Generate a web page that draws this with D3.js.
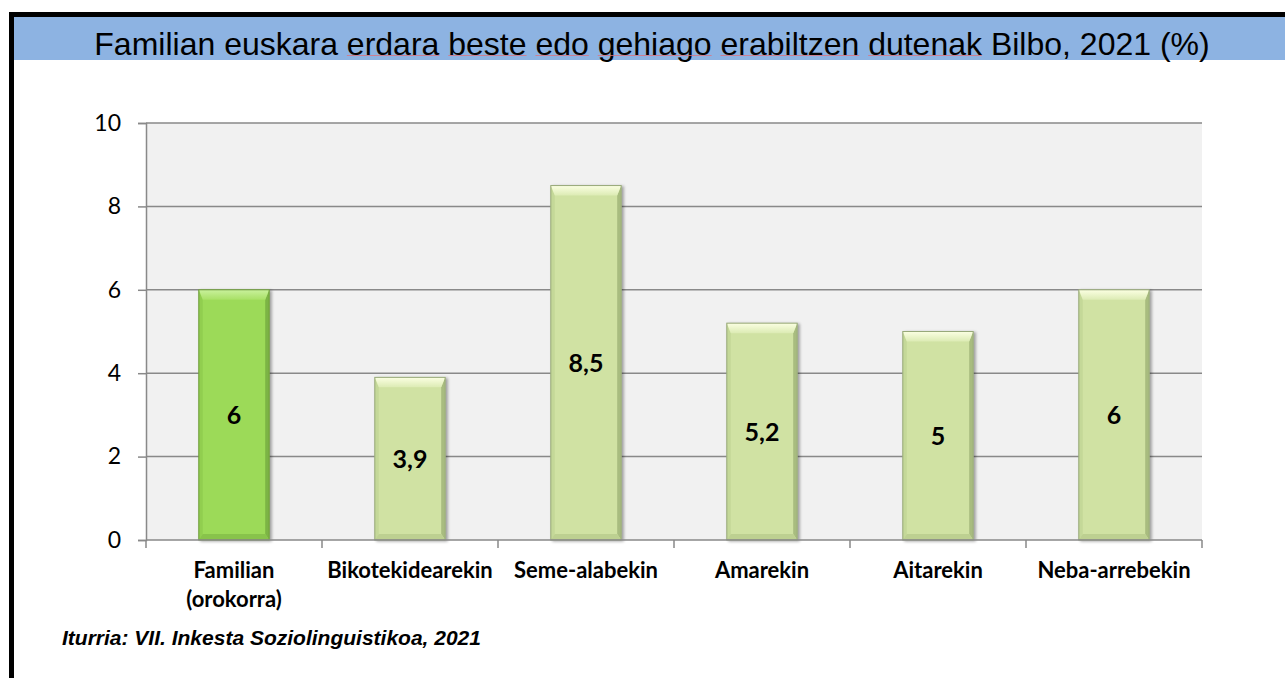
<!DOCTYPE html>
<html>
<head>
<meta charset="utf-8">
<script src="https://cdn.jsdelivr.net/npm/d3@7"></script>
<style>
  html, body { margin: 0; padding: 0; background: #ffffff; }
  svg { display: block; }
</style>
</head>
<body>
<svg id="chart" width="1285" height="678"></svg>
<script>
// Chart data
const titleText = "Familian euskara erdara beste edo gehiago erabiltzen dutenak Bilbo, 2021 (%)";
const sourceText = "Iturria: VII. Inkesta Soziolinguistikoa, 2021";
const categories = ["Familian\n(orokorra)", "Bikotekidearekin", "Seme-alabekin", "Amarekin", "Aitarekin", "Neba-arrebekin"];
const values = [6, 3.9, 8.5, 5.2, 5, 6];
const valueLabels = ["6", "3,9", "8,5", "5,2", "5", "6"];
const yTicks = [0, 2, 4, 6, 8, 10];

const svg = d3.select("#chart");
const W = 1285, H = 678;

// Frame (top and left black edges)
svg.append("rect").attr("x", 9).attr("y", 12).attr("width", W - 9).attr("height", 5).attr("fill", "#000");
svg.append("rect").attr("x", 9).attr("y", 12).attr("width", 5).attr("height", H - 12).attr("fill", "#000");

// Title band
svg.append("rect").attr("x", 14).attr("y", 17).attr("width", W - 14).attr("height", 43).attr("fill", "#8DB3E2");
const title = svg.append("text")
  .attr("x", 652).attr("y", 55)
  .attr("text-anchor", "middle")
  .attr("font-family", "Liberation Sans, Arial, sans-serif")
  .attr("font-size", 32)
  .attr("fill", "#000")
  .text(titleText);

// Spell-check style underlines beneath some title words
(function () {
  const node = title.node();
  const words = titleText.split(" ");
  const marked = new Set(["erdara", "beste", "edo", "gehiago", "erabiltzen", "dutenak"]);
  let idx = 0;
  words.forEach(w => {
    if (marked.has(w)) {
      const s = node.getStartPositionOfChar(idx).x;
      const e = node.getEndPositionOfChar(idx + w.length - 1).x;
      svg.append("line").attr("x1", s).attr("x2", e).attr("y1", 55.5).attr("y2", 55.5)
        .attr("stroke", "#E0707A").attr("stroke-width", 1).attr("opacity", 0.75);
    }
    idx += w.length + 1;
  });
})();

// Plot area
const plot = { left: 146, right: 1202, top: 123, bottom: 540 };

const x = d3.scaleBand().domain(categories).range([plot.left, plot.right]).paddingInner(0.6).paddingOuter(0.3);
const xBound = d3.scaleBand().domain(categories).range([plot.left, plot.right]).padding(0);
const y = d3.scaleLinear().domain([0, 10]).range([plot.bottom, plot.top]);

svg.append("rect")
  .attr("x", plot.left).attr("y", plot.top)
  .attr("width", plot.right - plot.left).attr("height", plot.bottom - plot.top)
  .attr("fill", "#F1F1F1");

// Gridlines
svg.append("g").selectAll("line").data(yTicks.filter(d => d > 0)).join("line")
  .attr("x1", plot.left).attr("x2", plot.right)
  .attr("y1", d => y(d)).attr("y2", d => y(d))
  .attr("stroke", "#898989").attr("stroke-width", 1.5);

// Y axis
const yAxis = svg.append("g")
  .attr("transform", `translate(${plot.left},0)`)
  .call(d3.axisLeft(y).tickValues(yTicks).tickSize(8).tickPadding(17).tickFormat(d3.format("d")));
yAxis.select(".domain").attr("stroke", "#898989").attr("stroke-width", 1.5);
yAxis.selectAll(".tick line").attr("stroke", "#898989").attr("stroke-width", 1.5);
yAxis.selectAll("text")
  .attr("font-family", "Lato, Carlito, sans-serif")
  .attr("font-size", 23).attr("fill", "#000");

// Gradients and filters for the bevelled bars
const defs = svg.append("defs");
const shadow = defs.append("filter").attr("id", "barShadow").attr("x", "-20%").attr("y", "-10%").attr("width", "140%").attr("height", "120%");
shadow.append("feGaussianBlur").attr("in", "SourceAlpha").attr("stdDeviation", 1.5).attr("result", "blur");
shadow.append("feOffset").attr("in", "blur").attr("dx", 2).attr("dy", 1).attr("result", "off");
shadow.append("feComponentTransfer").attr("in", "off").attr("result", "soft")
  .append("feFuncA").attr("type", "linear").attr("slope", 0.35);
const merge = shadow.append("feMerge");
merge.append("feMergeNode").attr("in", "soft");
merge.append("feMergeNode").attr("in", "SourceGraphic");

const palettes = {
  main:  { face: "#9CDA58", top0: "#C9F19C", top1: "#A8E066", right: "#7CB444", left: "#91CE50", bottom: "#88C34B", stroke: "#6F9C3C" },
  light: { face: "#D0E2A3", top0: "#FBFFE2", top1: "#DCEBB4", right: "#A8BC7F", left: "#C4D898", bottom: "#BDD091", stroke: "#98A97A" }
};
Object.entries(palettes).forEach(([k, p]) => {
  const g = defs.append("linearGradient").attr("id", "top-" + k).attr("x1", 0).attr("y1", 0).attr("x2", 0).attr("y2", 1);
  g.append("stop").attr("offset", "0%").attr("stop-color", p.top0);
  g.append("stop").attr("offset", "100%").attr("stop-color", p.top1);
});

const bars = svg.append("g").selectAll("g").data(categories).join("g")
  .attr("filter", "url(#barShadow)");

bars.each(function (c, i) {
  const g = d3.select(this);
  const p = i === 0 ? palettes.main : palettes.light;
  const key = i === 0 ? "main" : "light";
  const x0 = x(c), w = x.bandwidth();
  const y0 = y(values[i]), y1 = y(0);
  const bt = 10, bs = 4, bb = 6;
  g.append("rect").attr("x", x0).attr("y", y0).attr("width", w).attr("height", y1 - y0).attr("fill", p.face);
  // left edge
  g.append("path").attr("d", `M${x0},${y0}L${x0 + bs},${y0 + bt}L${x0 + bs},${y1 - bb}L${x0},${y1}Z`).attr("fill", p.left);
  // right edge
  g.append("path").attr("d", `M${x0 + w},${y0}L${x0 + w - bs},${y0 + bt}L${x0 + w - bs},${y1 - bb}L${x0 + w},${y1}Z`).attr("fill", p.right);
  // bottom edge
  g.append("path").attr("d", `M${x0},${y1}L${x0 + bs},${y1 - bb}L${x0 + w - bs},${y1 - bb}L${x0 + w},${y1}Z`).attr("fill", p.bottom);
  // top highlight
  g.append("path").attr("d", `M${x0},${y0}L${x0 + w},${y0}L${x0 + w - bs},${y0 + bt}L${x0 + bs},${y0 + bt}Z`).attr("fill", `url(#top-${key})`);
  g.append("rect").attr("x", x0).attr("y", y0).attr("width", w).attr("height", y1 - y0)
    .attr("fill", "none").attr("stroke", p.stroke).attr("stroke-width", 1);
});

// Value labels centred in each bar
svg.append("g").selectAll("text").data(categories).join("text")
  .attr("x", c => x(c) + x.bandwidth() / 2)
  .attr("y", (c, i) => (y(values[i]) + y(0)) / 2 + 9)
  .attr("text-anchor", "middle")
  .attr("font-family", "Lato, Carlito, sans-serif")
  .attr("font-weight", "bold")
  .attr("font-size", 25)
  .attr("fill", "#000")
  .text((c, i) => valueLabels[i]);

// X axis baseline and category separators
const xAxisG = svg.append("g");
xAxisG.append("line").attr("x1", plot.left).attr("x2", plot.right).attr("y1", plot.bottom).attr("y2", plot.bottom)
  .attr("stroke", "#898989").attr("stroke-width", 1.5);
const bounds = categories.map(c => xBound(c)).concat([plot.right]);
xAxisG.selectAll("line.sep").data(bounds).join("line").attr("class", "sep")
  .attr("x1", d => d).attr("x2", d => d).attr("y1", plot.bottom).attr("y2", plot.bottom + 8)
  .attr("stroke", "#898989").attr("stroke-width", 1.5);

// Category labels
svg.append("g").selectAll("text").data(categories).join("text")
  .attr("x", c => xBound(c) + xBound.bandwidth() / 2)
  .attr("y", 578)
  .attr("text-anchor", "middle")
  .attr("font-family", "Lato, Carlito, sans-serif")
  .attr("font-weight", "bold")
  .attr("font-size", 22)
  .attr("fill", "#000")
  .each(function (c) {
    const t = d3.select(this);
    c.split("\n").forEach((line, k) => {
      t.append("tspan").attr("x", xBound(c) + xBound.bandwidth() / 2).attr("dy", k === 0 ? 0 : 29).text(line);
    });
  });

// Source note
svg.append("text")
  .attr("x", 62).attr("y", 645)
  .attr("font-family", "Liberation Sans, Arial, sans-serif")
  .attr("font-weight", "bold")
  .attr("font-style", "italic")
  .attr("font-size", 21)
  .attr("fill", "#000")
  .text(sourceText);
</script>
</body>
</html>
